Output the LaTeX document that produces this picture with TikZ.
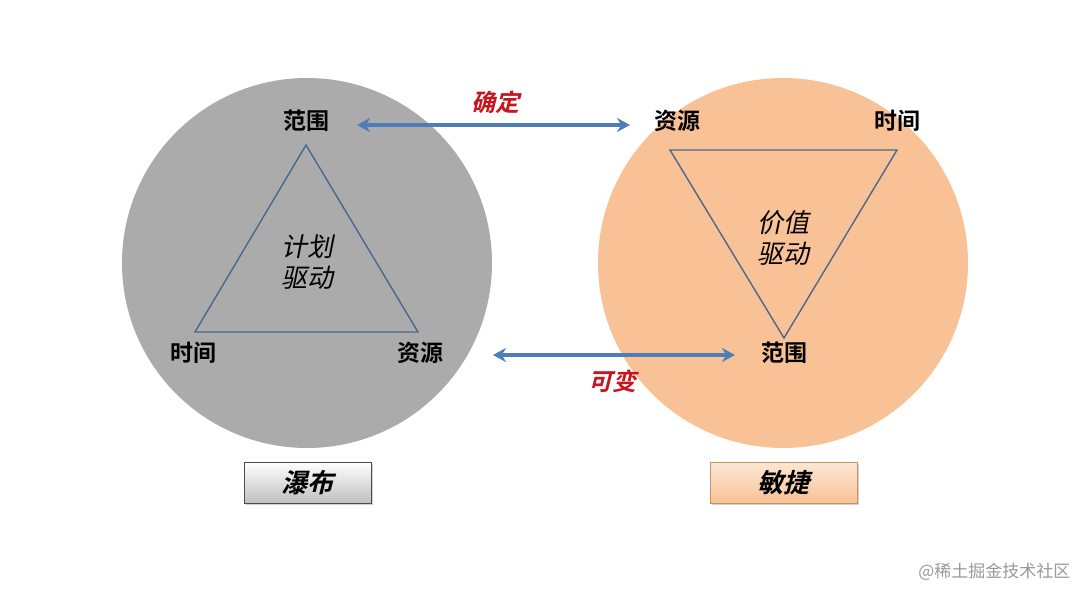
\documentclass[tikz,border=0pt]{standalone}
\usepackage{fontspec}
\newfontfamily\cjk{Noto Sans CJK SC}[BoldFont={Noto Sans CJK SC Bold}]
\newfontfamily\cjkit{Noto Sans CJK SC}[FakeSlant=0.2]
\newfontfamily\cjkbit{Noto Sans CJK SC Bold}[FakeSlant=0.25]
\usetikzlibrary{arrows.meta,positioning,shadows,calc}
\definecolor{circgray}{RGB}{171,171,171}
\definecolor{circpeach}{RGB}{249,194,150}
\definecolor{triblue}{RGB}{74,104,140}
\definecolor{arrblue}{RGB}{79,125,185}
\definecolor{lblred}{RGB}{200,20,30}
\tikzset{
  corner/.style={font=\cjk\bfseries\fontsize{23}{25}\selectfont},
  center/.style={font=\cjkit\fontsize{26}{31}\selectfont, align=center},
  twoway/.style={{Stealth[length=13pt,width=14pt]}-{Stealth[length=13pt,width=14pt]}, line width=3.6pt, arrblue},
  change/.style={font=\cjkbit\fontsize{24}{26}\selectfont, lblred},
  tag/.style={draw=black!70, line width=0.8pt, minimum width=127pt, minimum height=41pt, font=\cjkbit\fontsize{26}{28}\selectfont, drop shadow={opacity=0.35, shadow xshift=2pt, shadow yshift=-2pt}}
}
\begin{document}
\begin{tikzpicture}[x=1pt,y=-1pt]
  \useasboundingbox (0,0) rectangle (1080,589);
  \fill[white] (0,0) rectangle (1080,589);
  % circles
  \fill[circgray] (307,263) circle[radius=185];
  \fill[circpeach] (783,263) circle[radius=185];
  % waterfall triangle
  \coordinate (wtop) at (306,145);
  \coordinate (wleft) at (195,332);
  \coordinate (wright) at (418,332);
  \draw[triblue, line width=1.4pt] (wtop) -- (wleft) -- (wright) -- cycle;
  \node[corner] (wscope) at (306,121) {范围};
  \node[corner] (wtime) at (193,353) {时间};
  \node[corner] (wres) at (420,353) {资源};
  \node[center] (plan) at (307,262) {计划\\驱动};
  % agile triangle
  \coordinate (aleft) at (670,150);
  \coordinate (aright) at (897,150);
  \coordinate (abot) at (784,338);
  \draw[triblue, line width=1.4pt] (aleft) -- (aright) -- (abot) -- cycle;
  \node[corner] (ares) at (677,121) {资源};
  \node[corner] (atime) at (897,121) {时间};
  \node[corner] (ascope) at (784,353) {范围};
  \node[center] (value) at (783,238) {价值\\驱动};
  % arrows
  \coordinate (t1) at (357,125);
  \coordinate (t2) at (630,125);
  \draw[twoway] (t1) -- (t2);
  \node[change] (fixed) at (495,102) {确定};
  \coordinate (b1) at (493,355);
  \coordinate (b2) at (735,355);
  \draw[twoway] (b1) -- (b2);
  \node[change] (vary) at (612,381) {可变};
  % labels
  \node[tag, top color=white, bottom color=black!25] (waterfall) at (307.5,482.5) {瀑布};
  \node[tag, draw=orange!60!black!60, minimum width=147pt, top color=circpeach!40, bottom color=circpeach] (agile) at (783.5,482.5) {敏捷};
  \node[font=\cjk\fontsize{17}{18}\selectfont, black!40, anchor=east] (mark) at (1074,572) {@稀土掘金技术社区};
\end{tikzpicture}
\end{document}
